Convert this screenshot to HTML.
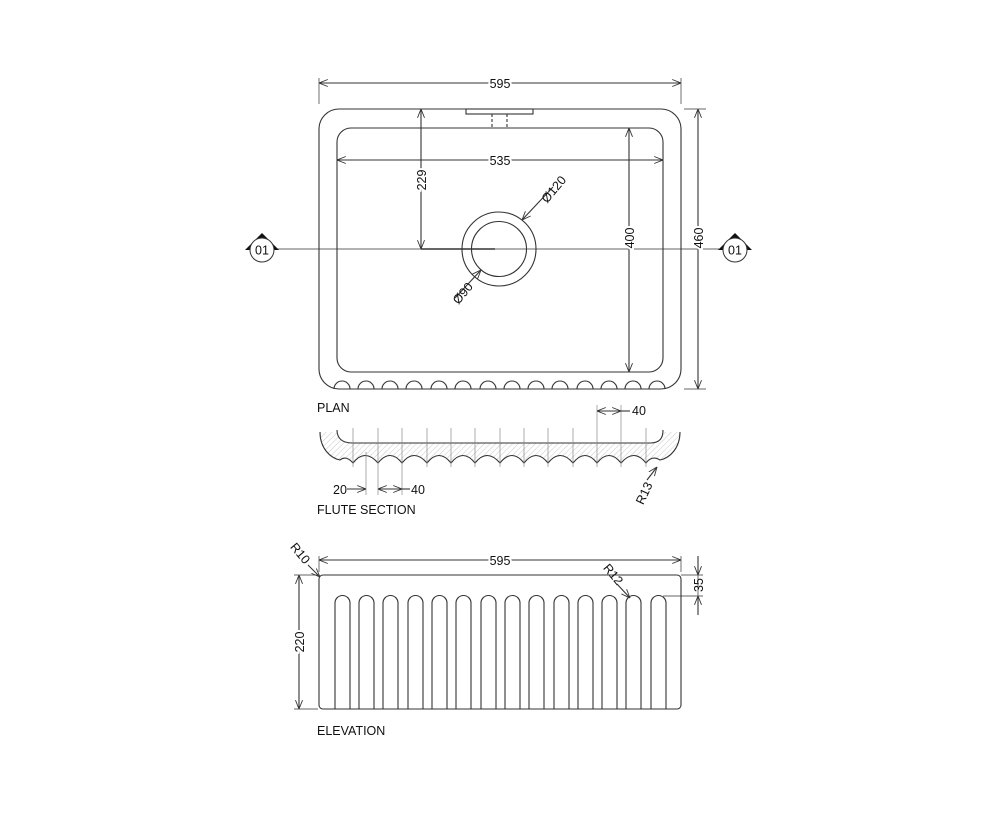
<!DOCTYPE html>
<html><head><meta charset="utf-8"><style>
html,body{margin:0;padding:0;background:#fff;}
svg{display:block;font-family:"Liberation Sans",Arial,sans-serif;}
</style></head><body>
<svg width="1000" height="830" viewBox="0 0 1000 830" xmlns="http://www.w3.org/2000/svg">
<defs>
<pattern id="h" width="4" height="4" patternUnits="userSpaceOnUse" patternTransform="rotate(45)">
<line x1="0" y1="0" x2="0" y2="4" stroke="#bbb" stroke-width="0.8"/>
</pattern>
<marker id="a" viewBox="0 0 10 10" refX="10" refY="5" markerWidth="8" markerHeight="8" orient="auto-start-reverse">
<path d="M0,1 L10,5 L0,9" fill="none" stroke="#333" stroke-width="1"/>
</marker>
</defs>
<g fill="none" stroke="#333" stroke-width="1.1">
<!-- PLAN -->
<rect x="319" y="109" width="362" height="280" rx="20"/>
<rect x="337" y="128" width="326" height="244" rx="14"/>
<rect x="466" y="109" width="67" height="5" fill="#fff"/>
<line x1="492" y1="114" x2="492" y2="128" stroke-dasharray="3,2"/>
<line x1="507" y1="114" x2="507" y2="128" stroke-dasharray="3,2"/>
<path d="M334,389 a8,8 0 0 1 16,0 M358,389 a8,8 0 0 1 16,0 M382,389 a8,8 0 0 1 16,0 M406,389 a8,8 0 0 1 16,0 M431,389 a8,8 0 0 1 16,0 M455,389 a8,8 0 0 1 16,0 M480,389 a8,8 0 0 1 16,0 M504,389 a8,8 0 0 1 16,0 M528,389 a8,8 0 0 1 16,0 M552,389 a8,8 0 0 1 16,0 M577,389 a8,8 0 0 1 16,0 M601,389 a8,8 0 0 1 16,0 M625,389 a8,8 0 0 1 16,0 M649,389 a8,8 0 0 1 16,0"/>
<circle cx="499" cy="249" r="37"/>
<circle cx="499" cy="249" r="27.5"/>
<line x1="275" y1="249" x2="722" y2="249" stroke-width="0.7"/>
<line x1="421" y1="249" x2="495" y2="249" stroke-width="1.6"/>
<!-- dims -->
<line x1="319" y1="78" x2="319" y2="104" stroke-width="0.7"/>
<line x1="681" y1="78" x2="681" y2="104" stroke-width="0.7"/>
<line x1="319" y1="83" x2="681" y2="83" marker-start="url(#a)" marker-end="url(#a)"/>
<line x1="337" y1="160" x2="663" y2="160" marker-start="url(#a)" marker-end="url(#a)"/>
<line x1="421" y1="109" x2="421" y2="249" marker-start="url(#a)" marker-end="url(#a)"/>
<line x1="629" y1="128" x2="629" y2="372" marker-start="url(#a)" marker-end="url(#a)"/>
<line x1="684" y1="109" x2="706" y2="109" stroke-width="0.7"/>
<line x1="684" y1="389" x2="706" y2="389" stroke-width="0.7"/>
<line x1="698" y1="109" x2="698" y2="389" marker-start="url(#a)" marker-end="url(#a)"/>
<line x1="553" y1="187" x2="522" y2="220" marker-end="url(#a)"/>
<line x1="455" y1="298" x2="481" y2="270" marker-end="url(#a)"/>
<!-- FLUTE SECTION -->
<path d="M320,432 C320,448 330,458 340,460 Q346,455 353,463 Q365,448 378,463 Q390,448 402,463 Q414,448 427,463 Q439,448 451,463 Q463,448 475,463 Q487,448 500,463 Q512,448 524,463 Q536,448 548,463 Q560,448 573,463 Q585,448 597,463 Q609,448 621,463 Q634,448 646,463 Q652,455 660,460 C670,458 680,448 680,432 L663,432 C663,438 660,443 650,443 L352,443 C342,443 337,438 337,432 Z" fill="url(#h)" stroke="none"/>
<path d="M320,432 C320,448 330,458 340,460 Q346,455 353,463 Q365,448 378,463 Q390,448 402,463 Q414,448 427,463 Q439,448 451,463 Q463,448 475,463 Q487,448 500,463 Q512,448 524,463 Q536,448 548,463 Q560,448 573,463 Q585,448 597,463 Q609,448 621,463 Q634,448 646,463 Q652,455 660,460 C670,458 680,448 680,432"/>
<path d="M337,430 C337,438 342,443 352,443 L650,443 C660,443 663,438 663,430"/>
<g stroke="#888" stroke-width="0.7">
<line x1="353" y1="428" x2="353" y2="467"/><line x1="378" y1="428" x2="378" y2="467"/><line x1="402" y1="428" x2="402" y2="467"/><line x1="427" y1="428" x2="427" y2="467"/><line x1="451" y1="428" x2="451" y2="467"/><line x1="475" y1="428" x2="475" y2="467"/><line x1="500" y1="428" x2="500" y2="467"/><line x1="524" y1="428" x2="524" y2="467"/><line x1="548" y1="428" x2="548" y2="467"/><line x1="573" y1="428" x2="573" y2="467"/><line x1="597" y1="405" x2="597" y2="467"/><line x1="621" y1="405" x2="621" y2="467"/><line x1="646" y1="428" x2="646" y2="467"/>
<line x1="366" y1="452" x2="366" y2="495"/>
<line x1="378" y1="467" x2="378" y2="495"/><line x1="402" y1="467" x2="402" y2="495"/>
</g>
<line x1="597" y1="411" x2="621" y2="411" marker-start="url(#a)" marker-end="url(#a)"/>
<line x1="621" y1="411" x2="630" y2="411"/>
<line x1="347" y1="489" x2="366" y2="489" marker-end="url(#a)"/>
<line x1="378" y1="489" x2="402" y2="489" marker-start="url(#a)" marker-end="url(#a)"/>
<line x1="402" y1="489" x2="410" y2="489"/>
<line x1="647" y1="480" x2="657" y2="467" marker-end="url(#a)"/>
<!-- ELEVATION -->
<rect x="319" y="575" width="362" height="134" rx="4"/>
<g>
<path d="M335,709 V603 a7.5,7.5 0 0 1 15,0 V709"/>
<path d="M359,709 V603 a7.5,7.5 0 0 1 15,0 V709"/>
<path d="M383,709 V603 a7.5,7.5 0 0 1 15,0 V709"/>
<path d="M408,709 V603 a7.5,7.5 0 0 1 15,0 V709"/>
<path d="M432,709 V603 a7.5,7.5 0 0 1 15,0 V709"/>
<path d="M456,709 V603 a7.5,7.5 0 0 1 15,0 V709"/>
<path d="M481,709 V603 a7.5,7.5 0 0 1 15,0 V709"/>
<path d="M505,709 V603 a7.5,7.5 0 0 1 15,0 V709"/>
<path d="M529,709 V603 a7.5,7.5 0 0 1 15,0 V709"/>
<path d="M554,709 V603 a7.5,7.5 0 0 1 15,0 V709"/>
<path d="M578,709 V603 a7.5,7.5 0 0 1 15,0 V709"/>
<path d="M602,709 V603 a7.5,7.5 0 0 1 15,0 V709"/>
<path d="M626,709 V603 a7.5,7.5 0 0 1 15,0 V709"/>
<path d="M651,709 V603 a7.5,7.5 0 0 1 15,0 V709"/>
</g>
<line x1="319" y1="556" x2="319" y2="572" stroke-width="0.7"/>
<line x1="681" y1="556" x2="681" y2="572" stroke-width="0.7"/>
<line x1="319" y1="560" x2="681" y2="560" marker-start="url(#a)" marker-end="url(#a)"/>
<line x1="294" y1="575" x2="318" y2="575" stroke-width="0.7"/>
<line x1="294" y1="709" x2="318" y2="709" stroke-width="0.7"/>
<line x1="299" y1="575" x2="299" y2="709" marker-start="url(#a)" marker-end="url(#a)"/>
<line x1="681" y1="575" x2="703" y2="575" stroke-width="0.7"/>
<line x1="663" y1="596" x2="703" y2="596" stroke-width="0.7"/>
<line x1="698" y1="556" x2="698" y2="575" marker-end="url(#a)"/>
<line x1="698" y1="615" x2="698" y2="596" marker-end="url(#a)"/>
<line x1="698" y1="575" x2="698" y2="596" stroke-width="0.7"/>
<line x1="308" y1="565" x2="320" y2="577" marker-end="url(#a)"/>
<line x1="617" y1="584" x2="630" y2="598" marker-end="url(#a)"/>
</g>
<!-- section markers -->
<polygon points="245,250 262,233 279,250" fill="#111"/>
<circle cx="262" cy="250" r="12" fill="#fff" stroke="#333"/>
<polygon points="718,250 735,233 752,250" fill="#111"/>
<circle cx="735" cy="250" r="12" fill="#fff" stroke="#333"/>
<g font-size="12.5" fill="#111">
<text x="262" y="254.5" text-anchor="middle">01</text>
<text x="735" y="254.5" text-anchor="middle">01</text>
<text x="500" y="88" text-anchor="middle" stroke="#fff" stroke-width="4" paint-order="stroke">595</text>
<text x="500" y="165" text-anchor="middle" stroke="#fff" stroke-width="4" paint-order="stroke">535</text>
<text transform="translate(426,180) rotate(-90)" text-anchor="middle" stroke="#fff" stroke-width="4" paint-order="stroke">229</text>
<text transform="translate(634,238) rotate(-90)" text-anchor="middle" stroke="#fff" stroke-width="4" paint-order="stroke">400</text>
<text transform="translate(703,238) rotate(-90)" text-anchor="middle" stroke="#fff" stroke-width="4" paint-order="stroke">460</text>
<text transform="translate(557,192) rotate(-50)" text-anchor="middle">Ø120</text>
<text transform="translate(466,296) rotate(-50)" text-anchor="middle">Ø90</text>
<text x="317" y="412">PLAN</text>
<text x="632" y="415">40</text>
<text x="333" y="494">20</text>
<text x="411" y="494">40</text>
<text transform="translate(648,495) rotate(-65)" text-anchor="middle">R13</text>
<text x="317" y="514">FLUTE SECTION</text>
<text x="500" y="565" text-anchor="middle" stroke="#fff" stroke-width="4" paint-order="stroke">595</text>
<text transform="translate(304,642) rotate(-90)" text-anchor="middle" stroke="#fff" stroke-width="4" paint-order="stroke">220</text>
<text transform="translate(703,585) rotate(-90)" text-anchor="middle">35</text>
<text transform="translate(297,556) rotate(50)" text-anchor="middle">R10</text>
<text transform="translate(610,577) rotate(50)" text-anchor="middle">R12</text>
<text x="317" y="735">ELEVATION</text>
</g>
</svg>
</body></html>
